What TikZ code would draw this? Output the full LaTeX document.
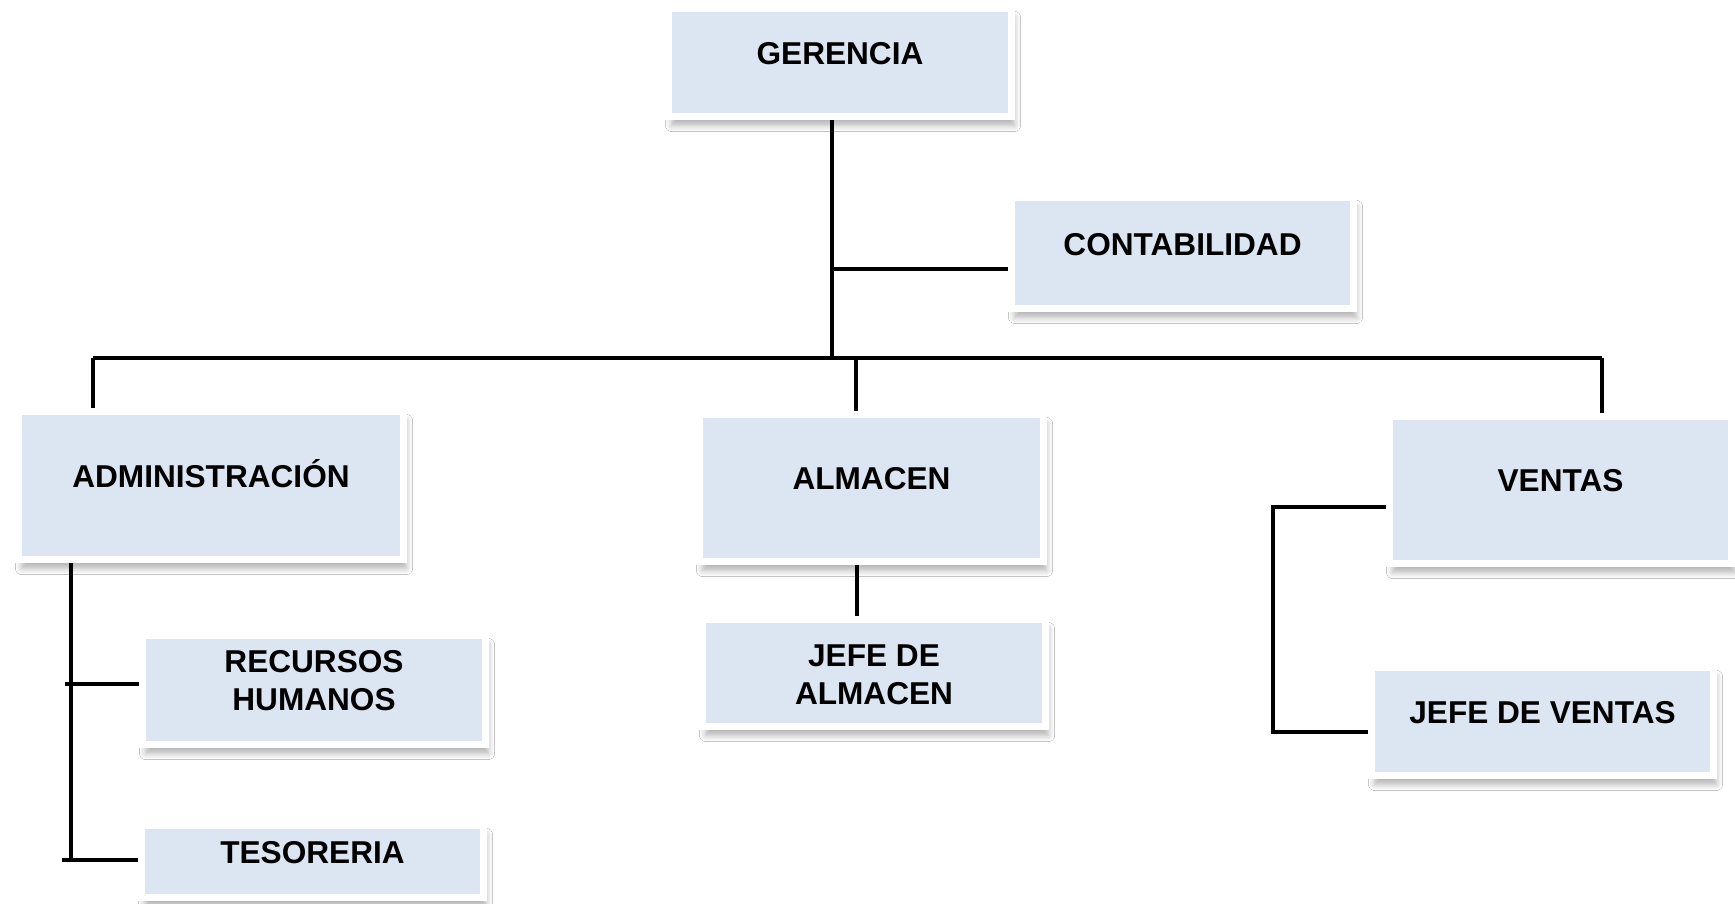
\documentclass[tikz,border=0pt]{standalone}
\usepackage{fontspec}
\setmainfont{Liberation Sans}
\usetikzlibrary{shadows.blur,backgrounds}
\definecolor{boxblue}{RGB}{220,230,242}
\begin{document}
\begin{tikzpicture}[x=0.5pt,y=-0.5pt,
    box/.style 2 args={rectangle,draw=white,line width=3.5pt,fill=boxblue,inner sep=0pt,
      minimum width=#1pt,minimum height=#2pt,
      blur shadow={shadow xshift=1.5pt,shadow yshift=-4.5pt,shadow blur radius=3pt,shadow blur steps=8,shadow opacity=30}},
    txt/.style={font=\bfseries\fontsize{15.8}{19}\selectfont,text height=11.3pt,text depth=0pt,inner sep=0pt},
    txtml/.style={font=\bfseries\fontsize{15.8}{19}\selectfont,align=center,inner sep=0pt},
    conn/.style={line width=2pt}]

       \useasboundingbox (0,0) rectangle (1735,904);

       \node[box={171.5}{54},label={[txt,yshift=4.75pt]center:GERENCIA}] (ger) at (840,62.5) {};
       \node[box={171}{55.5},label={[txt,yshift=4.5pt]center:CONTABILIDAD}] (con) at (1182.5,253) {};

       \node[box={192.5}{74},label={[txt,yshift=4.75pt]center:ADMINISTRACIÓN}] (adm) at (211,485.5) {};
       \node[box={172}{73.5},label={[txt,yshift=5pt]center:ALMACEN}] (alm) at (871.5,488) {};
       \node[box={171}{73.5},label={[txt,yshift=5pt]center:VENTAS}] (ven) at (1560.5,490) {};

       \node[box={171.5}{54.5},label={[txtml,yshift=4.5pt]center:{RECURSOS\\HUMANOS}}] (rrhh) at (314,690) {};
       \node[box={171}{36},label={[txt,yshift=4.75pt]center:TESORERIA}] (tes) at (312.5,861.5) {};
       \node[box={171.5}{53.5},label={[txtml,yshift=-1pt]center:{JEFE DE\\ALMACEN}}] (jalm) at (874,673) {};
       \node[box={171}{54},label={[txt,yshift=4.75pt]center:JEFE DE VENTAS}] (jven) at (1542.5,721.5) {};

       \coordinate (cj) at (832,269);
       \coordinate (bus) at (832,358);
       \coordinate (bl) at (93,358);
       \coordinate (br) at (1602,358);
       \coordinate (bm) at (856,358);
       \coordinate (av) at (71,860);
       \coordinate (ar) at (65,684);
       \coordinate (at) at (62,860);
       \coordinate (am) at (857,590);
       \coordinate (vc) at (1273,507);
       \coordinate (vb) at (1273,732);

       \begin{pgfonlayer}{background}
       \fill[white] (0,0) rectangle (1735,904);
       \draw[conn] (ger.south -| bus) -- (bus);
       \draw[conn] (cj) -- (cj -| con.west);
       \draw[conn] (bl) -- (br);
       \draw[conn] (bl) -- (bl |- adm.north);
       \draw[conn] (bm) -- (bm |- alm.north);
       \draw[conn] (br) -- (br |- ven.north);

       \draw[conn] (adm.south -| av) -- (av);
       \draw[conn] (ar) -- (ar -| rrhh.west);
       \draw[conn] (at) -- (at -| tes.west);
       \draw[conn] (alm.south -| am) -- (jalm.north -| am);
       \draw[conn] (vc -| ven.west) -- (vc) -- (vb) -- (vb -| jven.west);
       \end{pgfonlayer}
     \end{tikzpicture}
\end{document}
